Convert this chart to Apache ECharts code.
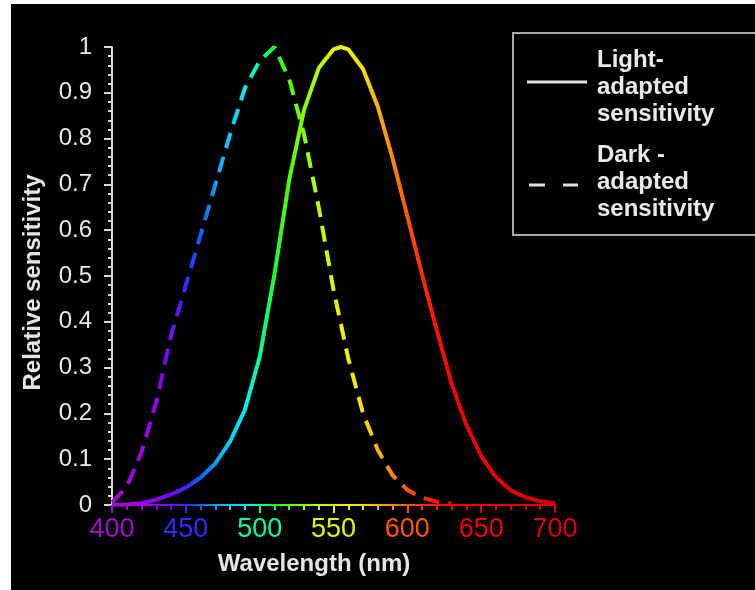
<!DOCTYPE html>
<html>
<head>
<meta charset="utf-8">
<script src="https://cdn.jsdelivr.net/npm/echarts/dist/echarts.min.js"></script>
<style>
  html, body { margin:0; padding:0; background:#fff; }
  #main { position:absolute; left:11px; top:4px; width:744px; height:586px; background:#000; }
</style>
</head>
<body>
<div id="main"></div>
<script>
// light adapted (photopic) curve
let lightNm  = [400,410,420,430,440,450,460,470,480,490,500,510,520,530,540,550,555,560,570,580,590,600,610,620,630,640,650,660,670,680,690,700];
let lightVal = [0.0004,0.0012,0.004,0.0116,0.023,0.038,0.06,0.091,0.139,0.208,0.323,0.503,0.71,0.862,0.954,0.995,1.0,0.995,0.952,0.87,0.757,0.631,0.503,0.381,0.265,0.175,0.107,0.061,0.032,0.017,0.0082,0.0041];
// dark adapted (scotopic) curve
let darkNm  = [400,410,420,430,440,450,460,470,480,490,500,510,520,530,540,550,560,570,580,590,600,610,620,630];
let darkVal = [0.005,0.04,0.115,0.225,0.37,0.48,0.59,0.70,0.81,0.91,0.97,1.0,0.93,0.81,0.65,0.47,0.32,0.20,0.12,0.065,0.033,0.016,0.007,0.003];

let xTicks = [400,450,500,550,600,650,700];
let legendNames = ['Light-\nadapted\nsensitivity', 'Dark -\nadapted\nsensitivity'];

// spectrum colour every 10 nm, 400..700
let spectrum = ['#9a10c8','#a008d8','#a000e8','#9000f8','#7010ff','#3828ff','#1060ff','#00a0ff','#00d0ff','#00eef0',
  '#00ffa0','#20ff30','#50ff00','#88ff00','#b8ff00','#e0f800','#f0f000','#f8e000','#ffb400','#ff8800',
  '#ff5800','#ff2c00','#ff1000','#f80400','#f00000','#ee0000','#ea0000','#e60000','#e20000','#de0000','#da0000'];

let font = 'Liberation Sans, Arial, sans-serif';
let gridL = 101, gridT = 43, gridW = 443, gridH = 458;

function pairs(xs, ys){
  let out = [];
  for(let i=0;i<xs.length;i++){ out.push([xs[i], ys[i]]); }
  return out;
}

let stops = spectrum.map(function(c, i){ return {offset: i/(spectrum.length-1), color: c}; });
// global gradient along the x axis (line + ticks)
let axisGrad = new echarts.graphic.LinearGradient(gridL, 0, gridL + gridW, 0, stops, true);

let chart = echarts.init(document.getElementById('main'));
let option = {
  backgroundColor: '#000',
  animation: false,
  grid: {left: gridL, top: gridT, right: 744 - gridL - gridW, bottom: 586 - gridT - gridH},
  visualMap: {
    show: false,
    type: 'continuous',
    dimension: 0,
    min: 400,
    max: 700,
    seriesIndex: [0, 1],
    inRange: {color: spectrum}
  },
  xAxis: {
    type: 'value',
    min: 400,
    max: 700,
    interval: 50,
    name: 'Wavelength (nm)',
    nameLocation: 'middle',
    nameGap: 47,
    nameTextStyle: {color: '#e6e6e6', fontSize: 24, fontWeight: 'bold', fontFamily: font, padding: [0, 39, 0, 0]},
    axisLine: {lineStyle: {color: axisGrad, width: 2}},
    axisTick: {length: 8, lineStyle: {color: axisGrad, width: 2}},
    minorTick: {show: true, splitNumber: 5, length: 5, lineStyle: {color: axisGrad, width: 2}},
    splitLine: {show: false},
    axisLabel: {
      margin: 11,
      fontSize: 27,
      fontFamily: font,
      color: function(v){ return spectrum[Math.round((v - 400) / 10)]; }
    }
  },
  yAxis: {
    type: 'value',
    min: 0,
    max: 1,
    interval: 0.1,
    name: 'Relative sensitivity',
    nameLocation: 'middle',
    nameGap: 67,
    nameTextStyle: {color: '#e6e6e6', fontSize: 24, fontWeight: 'bold', fontFamily: font, padding: [0, 13, 0, 0]},
    axisLine: {show: true, lineStyle: {color: '#d8d8d8', width: 2}},
    axisTick: {show: true, length: 8, lineStyle: {color: '#d8d8d8', width: 2}},
    minorTick: {show: true, splitNumber: 5, length: 4, lineStyle: {color: '#d8d8d8', width: 2}},
    splitLine: {show: false},
    axisLabel: {
      margin: 20,
      fontSize: 24,
      fontFamily: font,
      color: '#e8e8e8',
      formatter: function(v){ return String(+v.toFixed(1)); }
    }
  },
  series: [
    {
      name: legendNames[0],
      type: 'line',
      data: pairs(lightNm, lightVal),
      showSymbol: false,
      symbol: 'none',
      lineStyle: {width: 4}
    },
    {
      name: legendNames[1],
      type: 'line',
      data: pairs(darkNm, darkVal),
      showSymbol: false,
      symbol: 'none',
      lineStyle: {width: 4, type: [16, 9]}
    }
  ],
  graphic: [
    // legend box, runs off the right edge like the original
    {type: 'rect', shape: {x: 502, y: 29, width: 260, height: 202}, style: {fill: 'none', stroke: '#a8a8a8', lineWidth: 2}},
    {type: 'line', shape: {x1: 516, y1: 78, x2: 576, y2: 78}, style: {stroke: '#e0e0e0', lineWidth: 3}},
    {type: 'line', shape: {x1: 518, y1: 181, x2: 567, y2: 181}, style: {stroke: '#e0e0e0', lineWidth: 3, lineDash: [16, 18]}},
    {type: 'text', left: 586, top: 43, style: {text: legendNames[0], fill: '#eaeaea', font: 'bold 24px ' + font, lineHeight: 27}},
    {type: 'text', left: 586, top: 138, style: {text: legendNames[1], fill: '#eaeaea', font: 'bold 24px ' + font, lineHeight: 27}}
  ]
};
chart.setOption(option);
</script>
</body>
</html>
